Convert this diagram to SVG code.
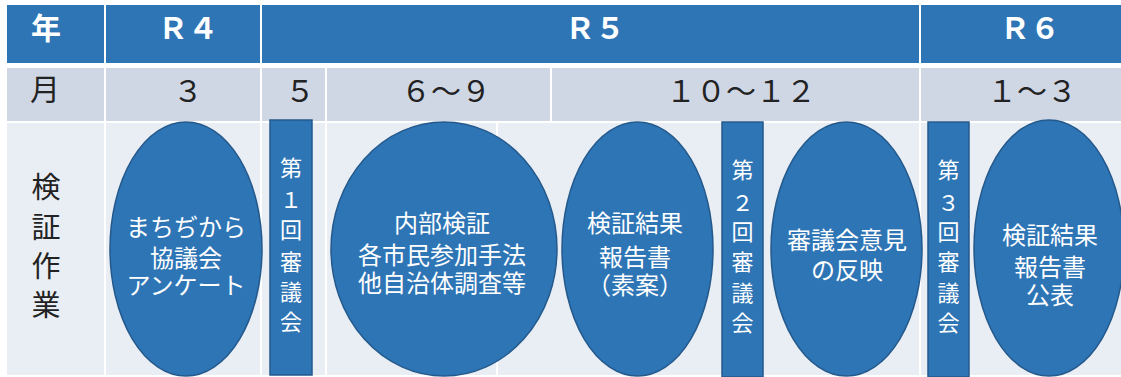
<svg xmlns="http://www.w3.org/2000/svg" width="1121" height="377" viewBox="0 0 1121 377">
<style>
.h{fill:#2E75B6}
.m{fill:#CFD7E5}
.w{fill:#E9EDF4}
.node{fill:#2E75B6;stroke:#24598C;stroke-width:1.5}
text{font-family:"Noto Sans CJK JP","Noto Sans",sans-serif;text-anchor:middle}
.ht{fill:#FFFFFF;font-size:30px;font-weight:bold}
.mt{fill:#222222;font-size:30px}
.lt{fill:#222222;font-size:29px}
.nt{fill:#FFFFFF;font-size:24px}
.vt{fill:#FFFFFF;font-size:22px}
</style>
<rect width="1121" height="377" fill="#FFFFFF"/>
<g id="table">
<rect class="h" x="7" y="5" width="97" height="58"/>
<rect class="h" x="106" y="5" width="154" height="58"/>
<rect class="h" x="262" y="5" width="657" height="58"/>
<rect class="h" x="921" y="5" width="200" height="58"/>
<rect class="m" x="7" y="68" width="97" height="53"/>
<rect class="m" x="106" y="68" width="154" height="53"/>
<rect class="m" x="262" y="68" width="63" height="53"/>
<rect class="m" x="327" y="68" width="223" height="53"/>
<rect class="m" x="552" y="68" width="367" height="53"/>
<rect class="m" x="921" y="68" width="200" height="53"/>
<rect class="w" x="7" y="123" width="97" height="252"/>
<rect class="w" x="106" y="123" width="154" height="252"/>
<rect class="w" x="262" y="123" width="63" height="252"/>
<rect class="w" x="327" y="123" width="169" height="252"/>
<rect class="w" x="498" y="123" width="421" height="252"/>
<rect class="w" x="921" y="123" width="200" height="252"/>
<text class="ht" x="46" y="39">年</text>
<text class="ht" x="188" y="39">Ｒ４</text>
<text class="ht" x="595" y="39">Ｒ５</text>
<text class="ht" x="1030" y="39">Ｒ６</text>
<text class="mt" x="45" y="100">月</text>
<text class="mt" x="188" y="102">３</text>
<text class="mt" x="300" y="102">５</text>
<text class="mt" x="446" y="102">６～９</text>
<text class="mt" x="741" y="102">１０～１２</text>
<text class="mt" x="1032" y="102">１～３</text>
<text class="lt" x="46" y="198"><tspan x="46">検</tspan><tspan x="46" dy="40">証</tspan><tspan x="46" dy="39">作</tspan><tspan x="46" dy="39">業</tspan></text>
</g>
<g id="connectors"></g>
<g id="n1">
<ellipse class="node" cx="186" cy="249" rx="76" ry="127"/>
<text class="nt" x="186" y="236"><tspan x="186">まちぢから</tspan><tspan x="186" dy="31">協議会</tspan><tspan x="186" dy="27">アンケート</tspan></text>
</g>
<g id="n2">
<rect class="node" x="270" y="120" width="42" height="255"/>
<text class="vt" x="291" y="176"><tspan x="291">第</tspan><tspan x="291" dy="32">１</tspan><tspan x="291" dy="30">回</tspan><tspan x="291" dy="32">審</tspan><tspan x="291" dy="30">議</tspan><tspan x="291" dy="30">会</tspan></text>
</g>
<g id="n3">
<ellipse class="node" cx="444" cy="249" rx="113" ry="127"/>
<text class="nt" x="442" y="232"><tspan x="442">内部検証</tspan><tspan x="442" dy="32">各市民参加手法</tspan><tspan x="442" dy="28">他自治体調査等</tspan></text>
</g>
<g id="n4">
<ellipse class="node" cx="637.5" cy="249" rx="75.5" ry="127"/>
<text class="nt" x="635" y="232"><tspan x="635">検証結果</tspan><tspan x="635" dy="34">報告書</tspan><tspan x="635" dy="28">（素案）</tspan></text>
</g>
<g id="n5">
<rect class="node" x="722" y="122" width="41" height="255"/>
<text class="vt" x="742.5" y="178"><tspan x="742.5">第</tspan><tspan x="742.5" dy="33">２</tspan><tspan x="742.5" dy="29">回</tspan><tspan x="742.5" dy="30">審</tspan><tspan x="742.5" dy="31">議</tspan><tspan x="742.5" dy="30">会</tspan></text>
</g>
<g id="n6">
<ellipse class="node" cx="846.5" cy="249" rx="75.5" ry="127"/>
<text class="nt" x="847" y="249"><tspan x="847">審議会意見</tspan><tspan x="847" dy="30">の反映</tspan></text>
</g>
<g id="n7">
<rect class="node" x="928" y="122" width="41" height="255"/>
<text class="vt" x="948.5" y="178"><tspan x="948.5">第</tspan><tspan x="948.5" dy="33">３</tspan><tspan x="948.5" dy="29">回</tspan><tspan x="948.5" dy="30">審</tspan><tspan x="948.5" dy="31">議</tspan><tspan x="948.5" dy="30">会</tspan></text>
</g>
<g id="n8">
<ellipse class="node" cx="1049" cy="248" rx="75" ry="128"/>
<text class="nt" x="1050" y="244"><tspan x="1050">検証結果</tspan><tspan x="1050" dy="32">報告書</tspan><tspan x="1050" dy="28">公表</tspan></text>
</g>
</svg>
